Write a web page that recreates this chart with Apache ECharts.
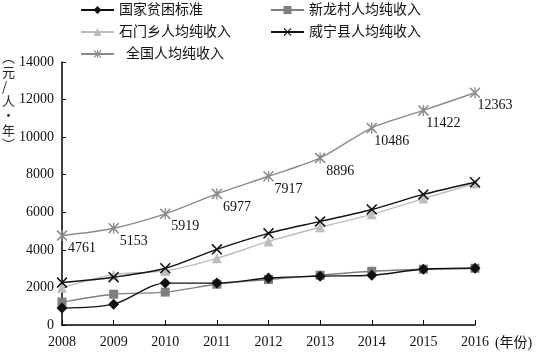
<!DOCTYPE html>
<html><head><meta charset="utf-8">
<script src="https://cdn.jsdelivr.net/npm/echarts@6/dist/echarts.min.js"></script>
<style>html,body{margin:0;padding:0;background:#fff}#c{width:536px;height:352px}</style>
</head><body><div id="c"></div>
<script>
const years = ['2008','2009','2010','2011','2012','2013','2014','2015','2016'];
const povertyLine = [900, 1110, 2230, 2230, 2500, 2600, 2650, 2970, 3020];
const xinlong = [1220, 1640, 1750, 2170, 2420, 2650, 2860, 2970, 3020];
const shimen = [1980, 2680, 2880, 3550, 4450, 5200, 5890, 6730, 7530];
const weining = [2260, 2545, 3020, 4030, 4880, 5515, 6150, 6950, 7600];
const national = [4761, 5153, 5919, 6977, 7917, 8896, 10486, 11422, 12363];
const yTicks = [0, 2000, 4000, 6000, 8000, 10000, 12000, 14000];

const FONT = '"Liberation Serif", "Noto Sans CJK SC", serif';
const xPath = 'path://M0,1L1,0L5,4L9,0L10,1L6,5L10,9L9,10L5,6L1,10L0,9L4,5Z';
const starPath = 'path://M0,1L1,0L5,4L9,0L10,1L6,5L10,9L9,10L5,6L1,10L0,9L4,5Z M4.4,0L5.6,0L5.6,10L4.4,10Z';

function mk(name, data, color, symbol, size, z, extra) {
  return Object.assign({
    name, type: 'line', data, smooth: 0.3, symbol, symbolSize: size, z,
    lineStyle: {color, width: 1.4},
    itemStyle: {color},
    emphasis: {disabled: true}
  }, extra || {});
}

const chart = echarts.init(document.getElementById('c'));
const legendText = {fontFamily: FONT, fontSize: 14, color: '#111'};
chart.setOption({
  animation: false,
  textStyle: {fontFamily: FONT},
  grid: {left: 62, right: 61, top: 62, bottom: 27},
  legend: [
    {left: 75, top: -2, orient: 'vertical', itemWidth: 33, itemHeight: 10, itemGap: 8,
     textStyle: legendText,
     formatter: n => n === '全国人均纯收入' ? '\u2002' + n : n,
     data: ['国家贫困标准', '石门乡人均纯收入', '全国人均纯收入']},
    {left: 265, top: -2, orient: 'vertical', itemWidth: 33, itemHeight: 10, itemGap: 8,
     textStyle: legendText,
     data: ['新龙村人均纯收入', '威宁县人均纯收入']}
  ],
  xAxis: {
    type: 'category', data: years, boundaryGap: false,
    axisLine: {lineStyle: {color: '#000', width: 1.5}},
    axisTick: {inside: true, length: 5, lineStyle: {color: '#000'}},
    axisLabel: {color: '#111', fontSize: 14, margin: 10, fontFamily: FONT},
    name: '(年份)', nameLocation: 'end', nameGap: 15,
    nameTextStyle: {fontFamily: FONT, fontSize: 14, color: '#111', verticalAlign: 'top', padding: [11, 0, 0, 0]}
  },
  yAxis: {
    type: 'value', min: 0, max: 14000, interval: 2000,
    axisLine: {show: true, lineStyle: {color: '#000', width: 1.5}},
    axisTick: {show: true, inside: true, length: 4, lineStyle: {color: '#000'}},
    splitLine: {show: false},
    axisLabel: {color: '#111', fontSize: 14, margin: 8, fontFamily: FONT,
      formatter: v => yTicks.includes(v) ? String(v) : ''}
  },
  graphic: [{
    type: 'text', left: 2, top: 50,
    style: {text: '︵\n元\n/\n人\n·\n年\n︶', font: '13px "Noto Sans CJK SC"', lineHeight: 14.5, fill: '#222', align: 'center'}
  }],
  series: [
    mk('国家贫困标准', povertyLine, '#111', 'diamond', 11, 6),
    mk('新龙村人均纯收入', xinlong, '#7f7f7f', 'rect', 9, 5),
    mk('石门乡人均纯收入', shimen, '#bdbdbd', 'triangle', 10, 4),
    mk('威宁县人均纯收入', weining, '#111', xPath, 11, 7),
    mk('全国人均纯收入', national, '#8a8a8a', starPath, 11, 3, {
      label: {show: true, position: 'inside', offset: [20, 13], color: '#111', fontSize: 14, fontFamily: FONT}
    })
  ]
});
</script></body></html>
